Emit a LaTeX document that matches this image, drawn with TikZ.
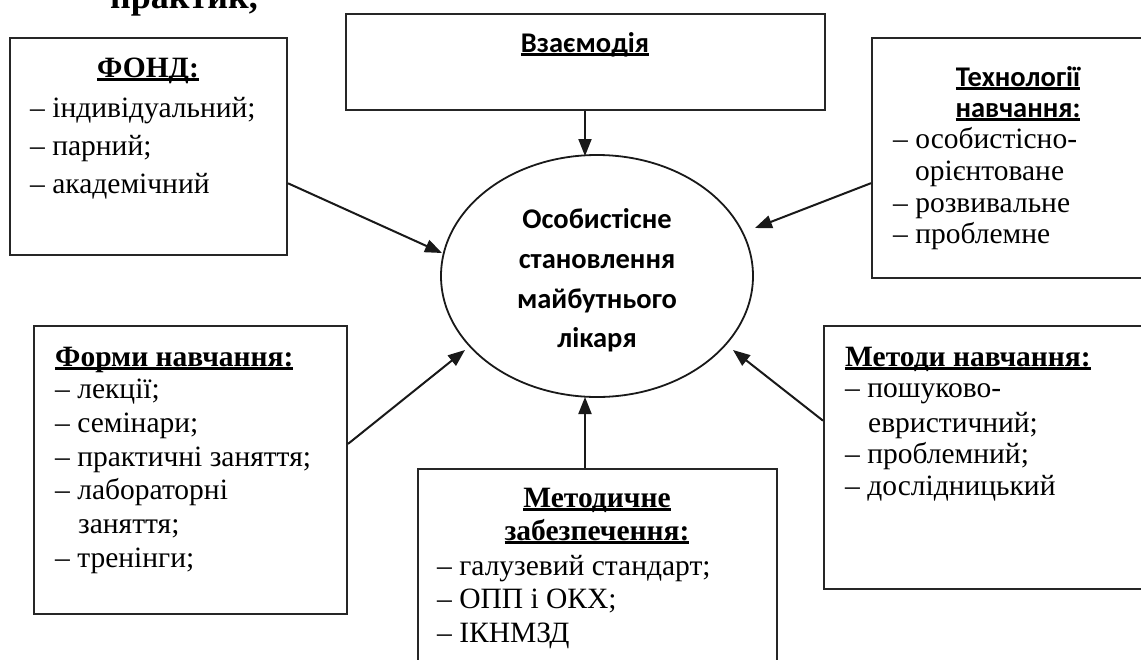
\documentclass[tikz,border=0pt]{standalone}
\usepackage{fontspec}
\setmainfont{Liberation Serif}
\newfontfamily\calfont{Carlito}
\newcommand\ulx[1]{\leavevmode\setbox0\hbox{#1}\rlap{\rule[-3.6pt]{\wd0}{2.4pt}}\box0}
\usetikzlibrary{shapes.geometric,arrows.meta,calc}
\tikzset{
  box/.style={draw=black!85, line width=2pt, inner sep=0pt, anchor=north west},
  txt/.style={inner sep=0pt, anchor=base west, font=\fontsize{29.5}{34}\selectfont},
  ttl/.style={inner sep=0pt, font=\fontsize{29.5}{34}\selectfont\bfseries},
  cal/.style={inner sep=0pt, anchor=base, font=\calfont\bfseries\fontsize{28.5}{34}\selectfont},
  arr/.style={line width=2pt, draw=black!90, -{Triangle[length=17pt,width=13pt]}}
}
\begin{document}
\begin{tikzpicture}[x=1pt,y=-1pt]
\useasboundingbox (0,0) rectangle (1141,659);
\fill[white] (0,0) rectangle (1141,659);
% cut-off heading at top
\node[inner sep=0pt, anchor=base west, font=\fontsize{36}{40}\selectfont\bfseries] (top) at (110,8) {практик,};
% boxes
\node[box, minimum width=277pt, minimum height=217pt] (fond) at (9,37) {};
\node[box, minimum width=479pt, minimum height=96pt] (vz) at (345,13) {};
\node[box, minimum width=290pt, minimum height=240pt] (tech) at (871,37) {};
\node[box, minimum width=313pt, minimum height=288pt] (forms) at (33,325) {};
\node[box, minimum width=359pt, minimum height=240pt] (metod) at (417,468) {};
\node[box, minimum width=340pt, minimum height=263pt] (meth) at (823,325) {};
\node[ellipse, draw=black!90, line width=1.8pt, minimum width=312pt, minimum height=242pt, inner sep=0pt] (ell) at (597,276) {};
% ellipse text
\node[cal] (e1) at (597,228) {Особистісне};
\node[cal] (e2) at (597,268) {становлення};
\node[cal] (e3) at (597,308) {майбутнього};
\node[cal] (e4) at (597,347) {лікаря};
% Взаємодія
\node[cal] (vzT) at (585,52) {\ulx{Взаємодія}};
% ФОНД
\node[ttl, anchor=base] (fondT) at (148,77) {\ulx{ФОНД:}};
\node[txt] (f1) at (30,117) {– індивідуальний;};
\node[txt] (f2) at (30,155) {– парний;};
\node[txt] (f3) at (30,193) {– академічний};
% Технології
\node[cal] (tT1) at (1018,86) {\ulx{Технології}};
\node[cal] (tT2) at (1018,117) {\ulx{навчання:}};
\node[txt] (t1) at (893,148) {– особистісно-};
\node[txt] (t2) at (915,180) {орієнтоване};
\node[txt] (t3) at (893,212) {– розвивальне};
\node[txt] (t4) at (893,243) {– проблемне};
% Форми навчання
\node[ttl, anchor=base west] (foT) at (55,366) {\ulx{Форми навчання:}};
\node[txt] (fo1) at (55,398) {– лекції;};
\node[txt] (fo2) at (55,432) {– семінари;};
\node[txt] (fo3) at (55,466) {– практичні заняття;};
\node[txt] (fo4) at (55,499) {– лабораторні};
\node[txt] (fo5) at (78,533) {заняття;};
\node[txt] (fo6) at (55,567) {– тренінги;};
% Методичне забезпечення
\node[ttl, anchor=base] (mzT1) at (597,507) {\ulx{Методичне}};
\node[ttl, anchor=base] (mzT2) at (597,540) {\ulx{забезпечення:}};
\node[txt] (mz1) at (437,575) {– галузевий стандарт;};
\node[txt] (mz2) at (437,608) {– ОПП і ОКХ;};
\node[txt] (mz3) at (437,642) {– ІКНМЗД};
% Методи навчання
\node[ttl, anchor=base west] (mT) at (845,366) {\ulx{Методи навчання:}};
\node[txt] (m1) at (845,397) {– пошуково-};
\node[txt] (m2) at (868,432) {евристичний;};
\node[txt] (m3) at (845,463) {– проблемний;};
\node[txt] (m4) at (845,495) {– дослідницький};
% connector ends
\coordinate (tipV) at ($(ell.center)+(-12,-120)$);
\coordinate (tipB) at ($(ell.center)+(-12,121)$);
\coordinate (tipF) at ($(ell.center)+(-155,-23)$);
\coordinate (tipT) at ($(ell.center)+(158,-48)$);
\coordinate (tipFo) at ($(ell.center)+(-132,74)$);
\coordinate (tipM) at ($(ell.center)+(136,74)$);
\coordinate (sF) at ($(fond.north east)!0.668!(fond.south east)$);
\coordinate (sT) at ($(tech.north west)!0.604!(tech.south west)$);
\coordinate (sFo) at ($(forms.north east)!0.41!(forms.south east)$);
\coordinate (sM) at ($(meth.north west)!0.361!(meth.south west)$);
% connectors
\draw[arr] (tipV |- vz.south) -- (tipV);
\draw[arr] (tipB |- metod.north) -- (tipB);
\draw[arr] (sF) -- (tipF);
\draw[arr] (sT) -- (tipT);
\draw[arr] (sFo) -- (tipFo);
\draw[arr] (sM) -- (tipM);
\end{tikzpicture}
\end{document}
